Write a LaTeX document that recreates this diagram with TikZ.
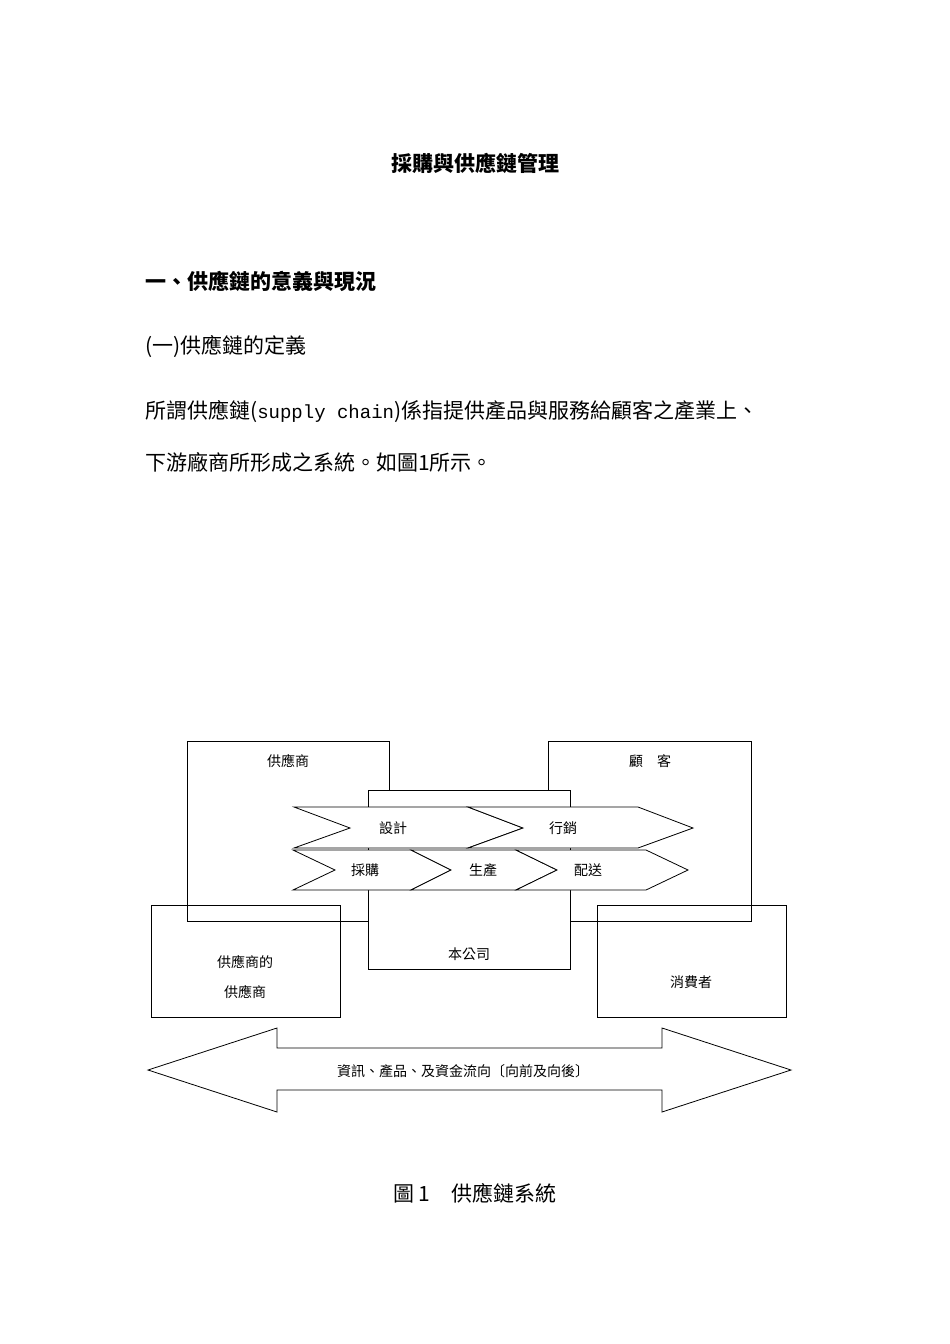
\documentclass[tikz,border=0pt]{standalone}
\usepackage{fontspec}
\setmainfont{Noto Sans CJK TC}
\newfontfamily\cjk{Noto Sans CJK TC}
\newfontfamily\monof{Liberation Mono}
\begin{document}
\begin{tikzpicture}[x=1pt,y=-1pt,
  box/.style={draw,line width=0.8pt},
  lbl/.style={font=\fontsize{14}{14}\selectfont,inner sep=0},
  txt/.style={font=\fontsize{21}{21}\selectfont,inner sep=0,anchor=west}]
\useasboundingbox[fill=white] (0,0) rectangle (950,1344);
\node[font=\bfseries\fontsize{21}{21}\selectfont,inner sep=0] (title) at (475,163) {採購與供應鏈管理};
\node[txt,font=\bfseries\fontsize{21}{21}\selectfont] (h1) at (145,281) {一、供應鏈的意義與現況};
\node[txt] (h2) at (145,347) {(一)供應鏈的定義};
\node[txt] (p1) at (145,412) {所謂供應鏈({\monof\fontsize{19}{19}\selectfont supply chain})係指提供產品與服務給顧客之產業上、};
\node[txt] (p2) at (145,462) {下游廠商所形成之系統。如圖1所示。};
% boxes
\draw[box] (187,741) rectangle (389,921);
\draw[box] (548,741) rectangle (751,921);
\draw[box] (151,905) rectangle (340,1017);
\draw[box] (597,905) rectangle (786,1017);
\draw[box,fill=white] (368,790) rectangle (570,969);
% chevrons
\draw[box,fill=white] (294,807) -- (468,807) -- (523,828) -- (468,848) -- (294,848) -- (350,828) -- cycle;
\draw[box,fill=white] (468,807) -- (638,807) -- (693,828) -- (638,848) -- (468,848) -- (523,828) -- cycle;
\draw[box,fill=white] (293,850) -- (411,850) -- (451,870) -- (411,890) -- (293,890) -- (335,870) -- cycle;
\draw[box,fill=white] (411,850) -- (516,850) -- (557,870) -- (516,890) -- (411,890) -- (451,870) -- cycle;
\draw[box,fill=white] (516,850) -- (646,850) -- (688,870) -- (646,890) -- (516,890) -- (557,870) -- cycle;
\node[lbl] (n1) at (288,761) {供應商};
\node[lbl] (n2) at (650,761) {顧\hspace{14pt}客};
\node[lbl] (n3) at (469,954) {本公司};
\node[lbl,align=center,font=\fontsize{14}{30}\selectfont] (n4) at (245,977) {供應商的\\供應商};
\node[lbl] (n5) at (691,982) {消費者};
\node[lbl] (c1) at (393,828) {設計};
\node[lbl] (c2) at (563,828) {行銷};
\node[lbl] (c3) at (365,870) {採購};
\node[lbl] (c4) at (483,870) {生產};
\node[lbl] (c5) at (588,870) {配送};
% double arrow
\draw[box] (148,1070) -- (277,1028) -- (277,1048) -- (662,1048) -- (662,1028) -- (791,1070) -- (662,1112) -- (662,1090) -- (277,1090) -- (277,1112) -- cycle;
\node[lbl] (a) at (463,1071) {資訊、產品、及資金流向〔向前及向後〕};
\node[font=\fontsize{21}{21}\selectfont,inner sep=0] (cap) at (475,1193) {圖\,1\hspace{21pt}供應鏈系統};
\end{tikzpicture}
\end{document}
